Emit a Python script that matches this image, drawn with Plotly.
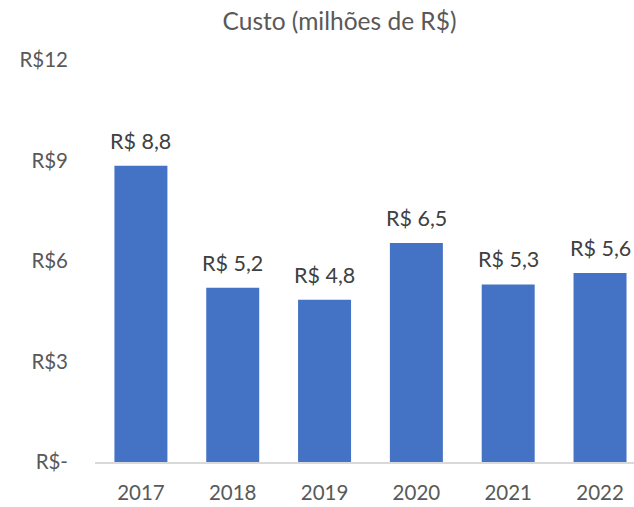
import plotly.graph_objects as go

years = ["2017", "2018", "2019", "2020", "2021", "2022"]
custo = [8.84, 5.2, 4.84, 6.54, 5.3, 5.64]
y_ticks = [0, 3, 6, 9, 12]
y_tick_labels = ["R$-", "R$3", "R$6", "R$9", "R$12"]
title = "Custo (milhões de R$)"

labels = ["R$ " + f"{v:.1f}".replace(".", ",") for v in custo]
xpos = list(range(len(years)))

fig = go.Figure(go.Bar(
    x=xpos, y=custo,
    marker=dict(color="#4472C4", line=dict(width=0)),
    width=0.577,
    hoverinfo="skip",
))

for xi, v, lab in zip(xpos, custo, labels):
    fig.add_annotation(x=xi, y=v, text=lab, showarrow=False,
                       xanchor="center", yanchor="middle", yshift=25,
                       font=dict(size=21.5, color="#404040", family="Lato"))

fig.update_layout(
    width=634, height=507,
    margin=dict(l=95, r=0, t=60, b=44.5),
    paper_bgcolor="white", plot_bgcolor="white",
    showlegend=False,
    title=dict(text=title, x=0.5355, xanchor="center", xref="container",
               y=0.9586, yanchor="middle", yref="container",
               font=dict(size=24.5, color="#595959", family="Lato")),
    font=dict(family="Lato", color="#595959", size=20.5),
    xaxis=dict(range=[-0.5, 5.37], tickmode="array",
               tickvals=xpos, ticktext=years,
               showline=True, linecolor="#D9D9D9", linewidth=1.5,
               showgrid=False, ticks="", ticklabelstandoff=12,
               tickfont=dict(size=20.5, color="#595959")),
    yaxis=dict(range=[0, 12], tickmode="array", tickvals=y_ticks,
               ticktext=y_tick_labels, showgrid=False, zeroline=False,
               showline=False, ticks="", ticklabelstandoff=26,
               tickfont=dict(size=20.5, color="#595959")),
)

fig.write_html("out.html",
               config={"displayModeBar": False},
               post_script="document.body.style.margin='0';document.body.style.overflow='hidden';")
